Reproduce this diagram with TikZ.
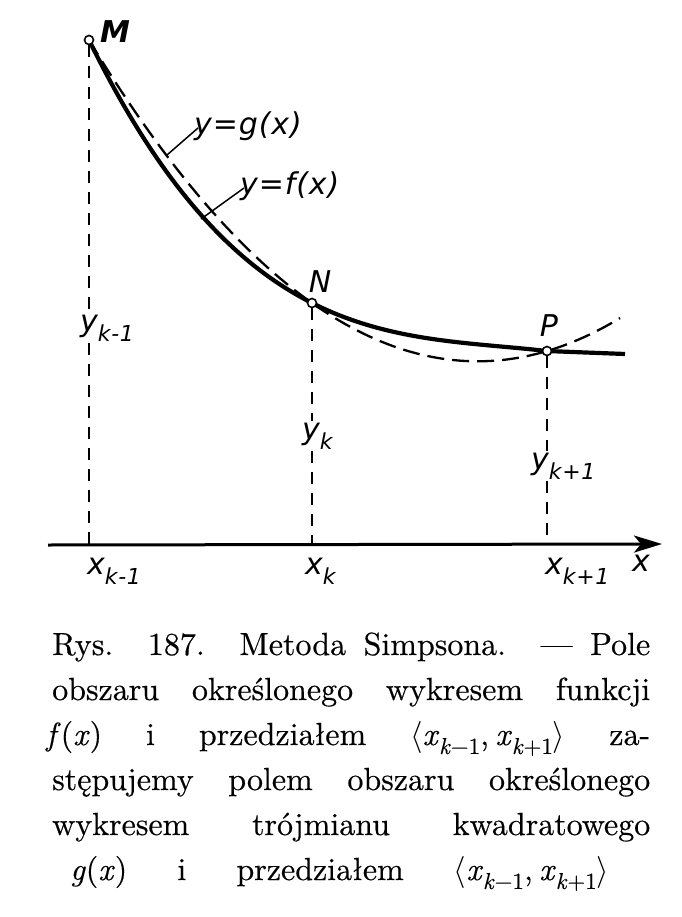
\documentclass[tikz,border=0pt]{standalone}
\usepackage{fix-cm}
\usepackage{fontspec}
\newfontfamily\labfont{DejaVu Sans}[LetterSpace=3]
\newfontfamily\capfont{lmroman10-regular.otf}[FakeBold=0.4, ItalicFont=lmroman10-italic.otf, ItalicFeatures={FakeBold=0.4}]
\usetikzlibrary{arrows.meta}
\newcommand\lsub[1]{\raisebox{-0.33em}{\fontsize{22}{22}\selectfont #1}}
\newcommand\csub[1]{\raisebox{-0.28em}{\fontsize{23}{23}\selectfont #1}}
\newcommand\ivl{$\langle$\textit{x}\csub{\textit{k}−1},\kern0.2em\textit{x}\csub{\textit{k}+1}$\rangle$}
\begin{document}
\begin{tikzpicture}[x=1pt,y=-1pt,
  lab/.style={font=\labfont\itshape\fontsize{30}{30}\selectfont, inner sep=2pt},
  blab/.style={font=\labfont\bfseries\itshape\fontsize{30}{30}\selectfont, inner sep=1pt},
  ptnode/.style={circle, draw, fill=white, line width=1.6pt, inner sep=0pt, minimum size=9pt},
  fcurve/.style={line width=4.2pt},
  gcurve/.style={line width=2.3pt, dash pattern=on 17pt off 8pt},
  vdash/.style={line width=1.7pt, dash pattern=on 12pt off 9pt},
  leader/.style={line width=1.5pt},
  axisline/.style={line width=3pt},
  captionline/.style={anchor=base west, inner sep=0pt, font=\capfont\fontsize{32}{45}\selectfont}
]
\useasboundingbox[fill=white] (0,0) rectangle (681,917);

% curves
\draw[gcurve] plot[domain=0:5.31, samples=90, variable=\u]
  ({89+100*\u},{40+117.94*\u-21.29*\u*(\u-2.23)});
\draw[fcurve, line join=round] plot[domain=0:4.58, samples=90, variable=\u]
  ({89+100*\u},{40+117.94*\u-21.29*\u*(\u-2.23)+3.8*\u*(\u-2.23)*(\u-4.58)})
  -- (625,354);

% axis
\coordinate (axs) at (48,545);
\coordinate (axe) at (662,544);
\draw[axisline, -{Stealth[length=28pt,width=17pt,inset=7pt]}] (axs) -- (axe);

% points
\node[ptnode] (M) at (89,40) {};
\node[ptnode] (N) at (312,303) {};
\node[ptnode] (P) at (547,351) {};
\node[blab] (Ml) at (115,32) {M};
\node[lab] (Nl) at (320,282) {N};
\node[lab] (Pl) at (549,326) {P};

% ordinate labels
\node[lab, anchor=west] (ykm) at (78,328) {y\lsub{k-1}};
\node[lab, anchor=west] (yk) at (300,436) {y\lsub{k}};
\node[lab, anchor=west] (ykp) at (529,466) {y\lsub{k+1}};

% vertical dashed lines
\draw[vdash] (M) -- (M |- ykm.north);
\draw[vdash] (M |- ykm.south) -- (M |- axs);
\draw[vdash] (N) -- (N |- yk.north);
\draw[vdash] (N |- yk.south) -- (N |- axs);
\draw[vdash] (P) -- (P |- ykp.north);
\draw[vdash] (P |- ykp.south) -- (P |- axs);

% abscissa labels
\node[lab, anchor=west] (xkm) at (85,571) {x\lsub{k-1}};
\node[lab, anchor=west] (xk) at (303,571) {x\lsub{k}};
\node[lab, anchor=west] (xkp) at (543,571) {x\lsub{k+1}};
\node[lab] (xl) at (641,563) {x};

% curve labels with leaders
\node[lab, anchor=west] (gl) at (192,126) {y=g(x)};
\node[lab, anchor=west] (fl) at (238,186) {y=f(x)};
\coordinate (gend) at (167,155);
\coordinate (fend) at (201,219);
\draw[leader] ([xshift=6pt,yshift=-2pt]gl.west) -- (gend);
\draw[leader] ([xshift=6pt,yshift=-2pt]fl.west) -- (fend);

% caption
\node[captionline] (c1) at (52,655) {\makebox[598pt][s]{Rys. 187. Metoda Simpsona. — Pole}};
\node[captionline] (c2) at (52,700) {\makebox[598pt][s]{obszaru określonego wykresem funkcji}};
\node[captionline] (c3) at (46,745) {\makebox[604pt][s]{\textit{f}(\textit{x}) i przedziałem \ivl{} za-}};
\node[captionline] (c4) at (52,790) {\makebox[598pt][s]{stępujemy polem obszaru określonego}};
\node[captionline] (c5) at (52,835) {\makebox[598pt][s]{wykresem trójmianu kwadratowego}};
\node[captionline] (c6) at (70,880) {\makebox[539pt][s]{\textit{g}(\textit{x}) i przedziałem \ivl}};
\end{tikzpicture}
\end{document}
